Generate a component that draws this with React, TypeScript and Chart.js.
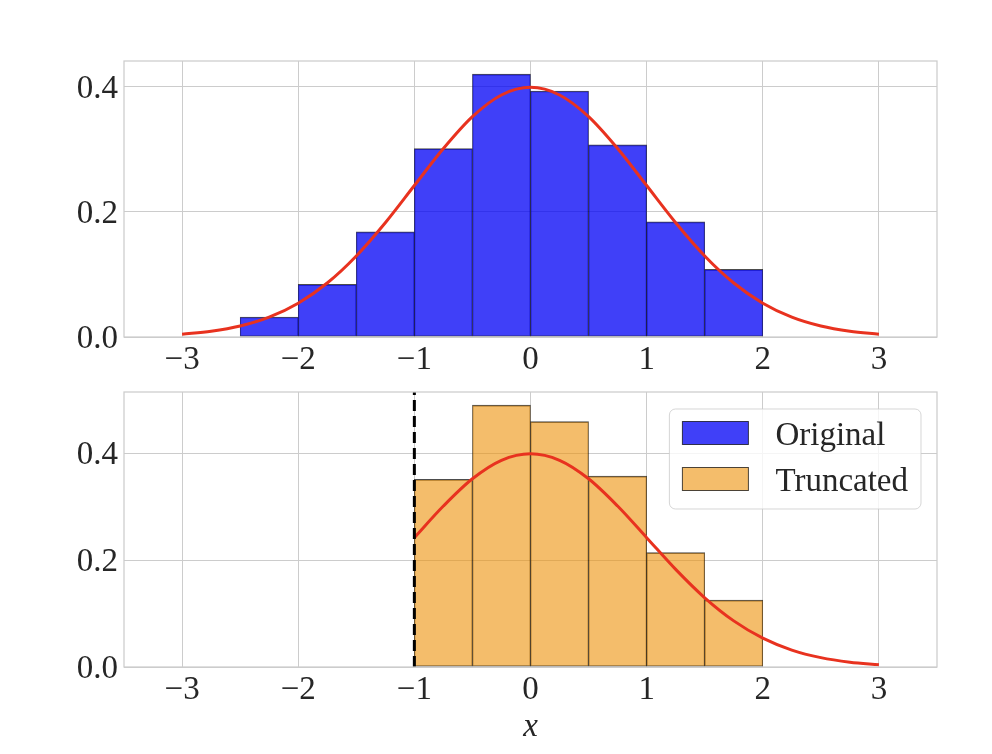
import { useEffect, useRef } from "react";
import { Chart, registerables } from "chart.js";

Chart.register(...registerables);

// histogram bins (width 0.5), density values
const binCenters = [-2.25, -1.75, -1.25, -0.75, -0.25, 0.25, 0.75, 1.25, 1.75];
const originalDensity = [0.032, 0.084, 0.168, 0.301, 0.42, 0.393, 0.307, 0.184, 0.108];
const truncatedDensity = [0, 0, 0, 0.351, 0.49, 0.459, 0.357, 0.214, 0.125];

// red reference curve
const pdfX = [
  -3, -2.75, -2.5, -2.25, -2, -1.75, -1.5, -1.25, -1, -0.75, -0.5, -0.25, 0,
  0.25, 0.5, 0.75, 1, 1.25, 1.5, 1.75, 2, 2.25, 2.5, 2.75, 3,
];
const pdfY = [
  0.0044, 0.0091, 0.0175, 0.0317, 0.054, 0.0863, 0.1295, 0.1826, 0.242, 0.3011,
  0.3521, 0.3867, 0.3989, 0.3867, 0.3521, 0.3011, 0.242, 0.1826, 0.1295, 0.0863,
  0.054, 0.0317, 0.0175, 0.0091, 0.0044,
];

const truncationPoint = -1;
const xTicks = [-3, -2, -1, 0, 1, 2, 3];
const yTicks = [0, 0.2, 0.4];
const legendLabels = ["Original", "Truncated"];

const FONT = "'Liberation Serif', 'DejaVu Serif', serif";
const TEXT = "#262626";
const GRID = "#cccccc";
const BLUE = "rgba(0,0,245,0.75)";
const ORANGE = "rgba(236,145,8,0.6)";
const EDGE = "rgba(0,0,0,0.7)";
const RED = "#e8321f";

const frame = {
  id: "frame",
  afterDatasetsDraw(chart: any) {
    const { ctx, chartArea: a } = chart;
    ctx.save();
    ctx.strokeStyle = GRID;
    ctx.lineWidth = 1.25;
    ctx.strokeRect(a.left, a.top, a.right - a.left, a.bottom - a.top);
    ctx.restore();
  },
};

const insideLegend = {
  id: "insideLegend",
  afterDraw(chart: any) {
    const { ctx, chartArea } = chart;
    const fills = [BLUE, ORANGE];
    ctx.save();
    ctx.font = `33px ${FONT}`;
    const textW = Math.max(...legendLabels.map((l) => ctx.measureText(l).width));
    const w = 13 + 66 + 27 + textW + 13;
    const h = 100;
    const right = chartArea.right - 16;
    const left = right - w;
    const top = chartArea.top + 17;
    ctx.beginPath();
    ctx.roundRect(left, top, w, h, 6);
    ctx.fillStyle = "rgba(255,255,255,0.8)";
    ctx.fill();
    ctx.strokeStyle = "rgba(204,204,204,0.8)";
    ctx.lineWidth = 1;
    ctx.stroke();
    legendLabels.forEach((label, i) => {
      const cy = top + 24 + i * 46;
      ctx.fillStyle = fills[i];
      ctx.fillRect(left + 13, cy - 11.5, 66, 23);
      ctx.strokeStyle = EDGE;
      ctx.strokeRect(left + 13, cy - 11.5, 66, 23);
      ctx.fillStyle = TEXT;
      ctx.textBaseline = "alphabetic";
      ctx.fillText(label, left + 13 + 66 + 27, cy + 12);
    });
    ctx.restore();
  },
};

function makeConfig(bottom: boolean): any {
  const density = bottom ? truncatedDensity : originalDensity;
  const yMax = Math.max(...density) * 1.05;
  const curve = pdfX
    .map((x, i) => ({ x, y: pdfY[i] }))
    .filter((p) => !bottom || p.x >= truncationPoint);

  const datasets: any[] = [];
  if (bottom) {
    datasets.push({
      type: "line",
      data: [
        { x: truncationPoint, y: 0 },
        { x: truncationPoint, y: yMax },
      ],
      borderColor: "#000000",
      borderWidth: 3,
      borderDash: [11, 5],
      pointRadius: 0,
    });
  }
  datasets.push({
    type: "line",
    data: curve,
    borderColor: RED,
    borderWidth: 3,
    pointRadius: 0,
    cubicInterpolationMode: "monotone",
  });
  datasets.push({
    type: "bar",
    data: binCenters.map((x, i) => ({ x, y: density[i] })),
    backgroundColor: bottom ? ORANGE : BLUE,
    borderColor: EDGE,
    borderWidth: { top: 1, bottom: 1, left: 0.6, right: 0.6 },
    borderSkipped: false,
    barPercentage: 1,
    categoryPercentage: 1,
  });

  return {
    type: "bar",
    data: { datasets },
    plugins: bottom ? [frame, insideLegend] : [frame],
    options: {
      animation: false,
      responsive: true,
      maintainAspectRatio: false,
      layout: { padding: { top: bottom ? 47 : 61, right: 55, left: 0, bottom: 0 } },
      plugins: { legend: { display: false }, tooltip: { enabled: false } },
      scales: {
        x: {
          type: "linear",
          min: -3.5,
          max: 3.5,
          offset: false,
          afterFit: (s: any) => {
            s.height = bottom ? 87 : 38;
          },
          afterBuildTicks: (s: any) => {
            s.ticks = xTicks.map((value) => ({ value }));
          },
          grid: { color: GRID, lineWidth: 1, drawTicks: false, offset: false },
          border: { display: false },
          ticks: {
            color: TEXT,
            padding: 4,
            maxRotation: 0,
            font: { family: FONT, size: 33 },
            callback: (v: number) => (v < 0 ? "\u2212" + Math.abs(v) : String(v)),
          },
          title: bottom
            ? {
                display: true,
                text: "x",
                color: TEXT,
                font: { family: FONT, size: 33, style: "italic" },
                padding: { top: 0, bottom: 7 },
              }
            : { display: false },
        },
        y: {
          min: 0,
          max: yMax,
          afterFit: (s: any) => {
            s.width = 124;
          },
          afterBuildTicks: (s: any) => {
            s.ticks = yTicks.map((value) => ({ value }));
          },
          grid: { color: GRID, lineWidth: 1, drawTicks: false },
          border: { display: false },
          ticks: {
            color: TEXT,
            padding: 6,
            labelOffset: 2.5,
            font: { family: FONT, size: 33 },
            callback: (v: number) => v.toFixed(1),
          },
        },
      },
    },
  };
}

function Panel({ bottom }: { bottom: boolean }) {
  const canvasRef = useRef<HTMLCanvasElement | null>(null);

  useEffect(() => {
    if (!canvasRef.current) {
      return;
    }
    const chart = new Chart(canvasRef.current, makeConfig(bottom));
    return () => {
      chart.destroy();
    };
  }, [bottom]);

  return <canvas ref={canvasRef} />;
}

export default function App() {
  return (
    <div
      style={{
        position: "absolute",
        left: 0,
        top: 0,
        width: 992,
        height: 754,
        background: "#ffffff",
      }}
    >
      <div style={{ position: "absolute", left: 0, top: 0, width: 992, height: 375 }}>
        <Panel bottom={false} />
      </div>
      <div style={{ position: "absolute", left: 0, top: 345, width: 992, height: 409 }}>
        <Panel bottom={true} />
      </div>
    </div>
  );
}
